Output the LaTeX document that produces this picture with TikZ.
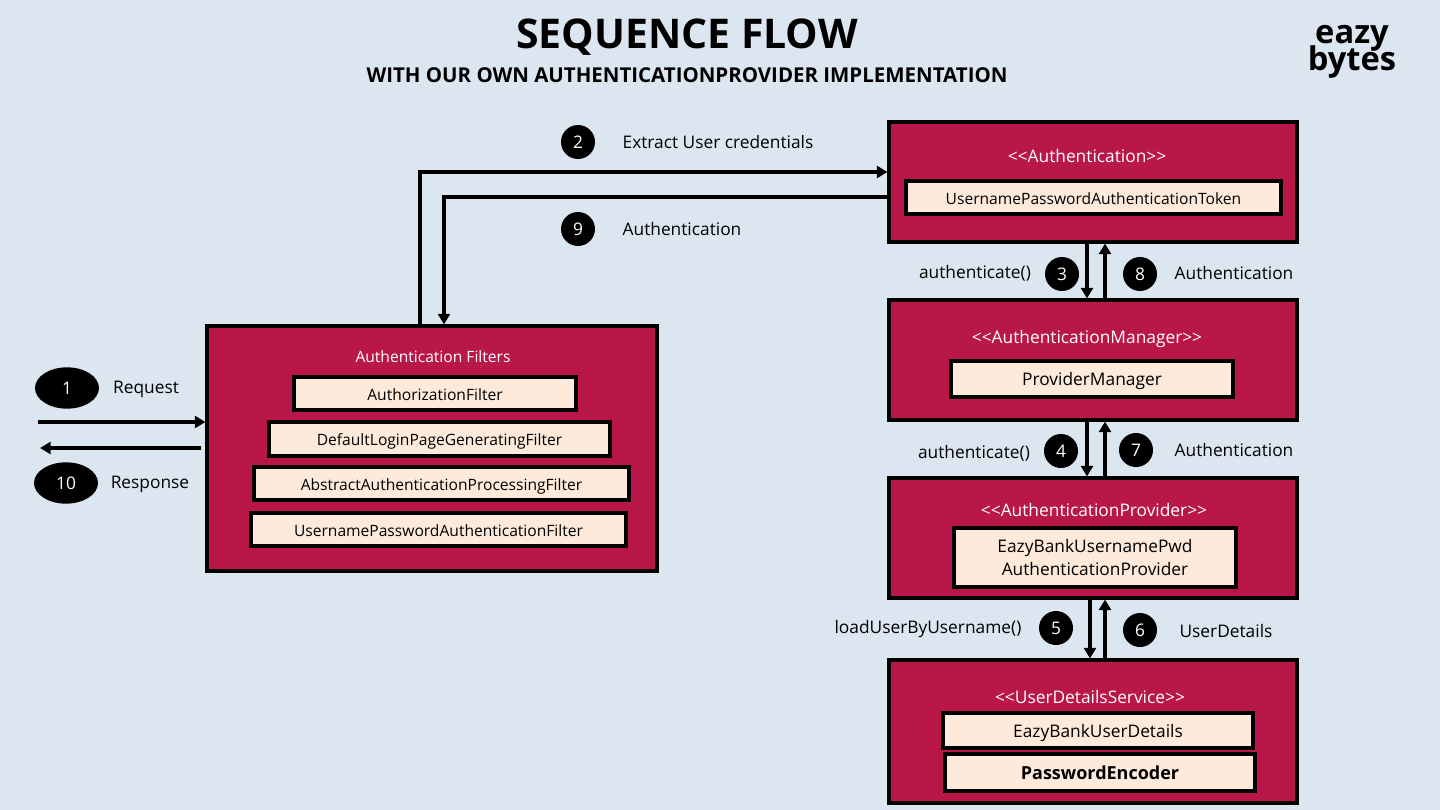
\documentclass[tikz,border=0pt]{standalone}
\usepackage{fontspec}
\setmainfont{Open Sans}
\usetikzlibrary{arrows.meta,shapes.geometric}
\definecolor{bgblue}{HTML}{DCE6F1}
\definecolor{boxred}{HTML}{B9174A}
\definecolor{boxcream}{HTML}{FDEADA}
\tikzset{
	redbox/.style={draw=black,line width=2.3pt,fill=boxred,inner sep=0pt},
	creambox/.style={draw=black,line width=3pt,fill=boxcream,inner sep=0pt,align=center,font=\fontsize{11.7}{17.5}\selectfont},
	onebox/.style={creambox,text height=10pt,text depth=0pt},
	headtext/.style={text=white,inner sep=0pt,font=\fontsize{13}{16}\selectfont},
	plaintext/.style={inner sep=0pt,font=\fontsize{13}{16}\selectfont},
	badge/.style={circle,fill=black,text=white,inner sep=0pt,minimum size=25.5pt,font=\fontsize{13}{16}\selectfont},
	ovalbadge/.style={ellipse,fill=black,text=white,inner sep=0pt,minimum width=48pt,minimum height=31pt,font=\fontsize{13}{16}\selectfont},
	arrowline/.style={-{Triangle[length=8pt,width=9pt]},line width=2.4pt,black}
}
\begin{document}
\begin{tikzpicture}[x=.75pt,y=-.75pt,line join=miter]
	\fill[bgblue] (0,0) rectangle (1440,810);
	\useasboundingbox (0,0) rectangle (1440,810);
	% titles
	\node[inner sep=0pt,font=\fontsize{30.7}{38}\selectfont\bfseries] (title) at (687,37.5) {SEQUENCE FLOW};
	\node[inner sep=0pt,font=\fontsize{15.35}{20}\selectfont\bfseries] (subtitle) at (687,75.5) {WITH OUR OWN AUTHENTICATIONPROVIDER IMPLEMENTATION};
	\node[inner sep=0pt,align=center,font=\fontsize{24.5}{20}\selectfont\bfseries] (logo) at (1352,52) {eazy\\[-5pt]bytes};
	% outer boxes
	\node[redbox,minimum width=337.5pt,minimum height=183.75pt] (filters) at (432,448.5) {};
	\node[redbox,minimum width=306pt,minimum height=90pt] (token) at (1093,182) {};
	\node[redbox,minimum width=306pt,minimum height=90pt] (manager) at (1093,360) {};
	\node[redbox,minimum width=306pt,minimum height=90pt] (provider) at (1093,538) {};
	\node[redbox,minimum width=306pt,minimum height=107.25pt] (service) at (1093,731.5) {};
	% box titles
	\node[headtext,font=\fontsize{11.7}{15}\selectfont] (filtershead) at (433,356.5) {Authentication Filters};
	\node[headtext] (tokenhead) at (1087,156) {<{}<Authentication>{}>};
	\node[headtext] (managerhead) at (1087,338.5) {<{}<AuthenticationManager>{}>};
	\node[headtext] (providerhead) at (1094,510) {<{}<AuthenticationProvider>{}>};
	\node[headtext] (servicehead) at (1090,696.5) {<{}<UserDetailsService>{}>};
	% inner boxes
	\node[onebox,minimum width=211.5pt,minimum height=24.75pt] (fa) at (435,393.5) {AuthorizationFilter};
	\node[onebox,minimum width=255.75pt,minimum height=25.5pt] (fb) at (439.5,439) {DefaultLoginPageGeneratingFilter};
	\node[onebox,minimum width=281.25pt,minimum height=24.75pt] (fc) at (441.5,483.5) {AbstractAuthenticationProcessingFilter};
	\node[onebox,minimum width=281.25pt,minimum height=24.75pt] (fd) at (438.5,529.5) {UsernamePasswordAuthenticationFilter};
	\node[onebox,minimum width=281.25pt,minimum height=24.75pt] (tokenimpl) at (1093.5,197.5) {UsernamePasswordAuthenticationToken};
	\node[onebox,font=\fontsize{13}{17.5}\selectfont,minimum width=211.5pt,minimum height=27pt] (managerimpl) at (1092,379) {ProviderManager};
	\node[creambox,font=\fontsize{13}{17.5}\selectfont,minimum width=211.5pt,minimum height=44.25pt] (providerimpl) at (1095,557.5) {EazyBankUsernamePwd\\AuthenticationProvider};
	\node[onebox,font=\fontsize{13}{17.5}\selectfont,minimum width=232.5pt,minimum height=26.25pt] (details) at (1098,730.5) {EazyBankUserDetails};
	\node[onebox,minimum width=232.5pt,minimum height=27.75pt,font=\fontsize{13.5}{17.5}\selectfont\bfseries] (encoder) at (1100,772.5) {PasswordEncoder};
	% number badges
	\foreach \i/\p in {2/{578,142},9/{578,229},3/{1062,274},8/{1140,274},4/{1061,451},7/{1136,450},5/{1056,628},6/{1140,630}}
	\node[badge] (b\i) at (\p) {\i};
	\node[ovalbadge] (b1) at (67,388) {1};
	\node[ovalbadge] (b10) at (66,483) {10};
	% labels
	\foreach \n/\p/\t in {request/{146,389.5}/Request,response/{150,484.5}/Response,extract/{718,142}/Extract User credentials,
		authnine/{682,229}/Authentication,callthree/{975,273}/authenticate(),autheight/{1234,273}/Authentication,
		callfour/{974,453}/authenticate(),authseven/{1234,450}/Authentication,
		callfive/{928,629}/loadUserByUsername(),detailssix/{1226,631}/UserDetails}
	\node[plaintext] (l\n) at (\p) {\t};
	% free ends and columns of the arrows
	\coordinate (reqstart) at (38,422);
	\coordinate (respend) at (40,448);
	\coordinate (upx) at (420,0);
	\coordinate (downx) at (444,0);
	\coordinate (upy) at (0,172);
	\coordinate (downy) at (0,197);
	% arrows
	\draw[arrowline] (reqstart) -- (reqstart-|filters.west);
	\draw[arrowline,shorten <=3pt] (respend-|filters.west) -- (respend);
	\draw[arrowline] (upx|-filters.north) -- (upx|-upy) -- (token.west|-upy);
	\draw[arrowline] (token.west|-downy) -- (downx|-downy) -- (downx|-filters.north);
	\foreach \a/\b/\x/\y in {token/manager/1087/1105,manager/provider/1087/1105,provider/service/1090/1105}{
		\draw[arrowline] (\x,0|-\a.south) -- (\x,0|-\b.north);
		\draw[arrowline] (\y,0|-\b.north) -- (\y,0|-\a.south);
	}
\end{tikzpicture}
\end{document}
